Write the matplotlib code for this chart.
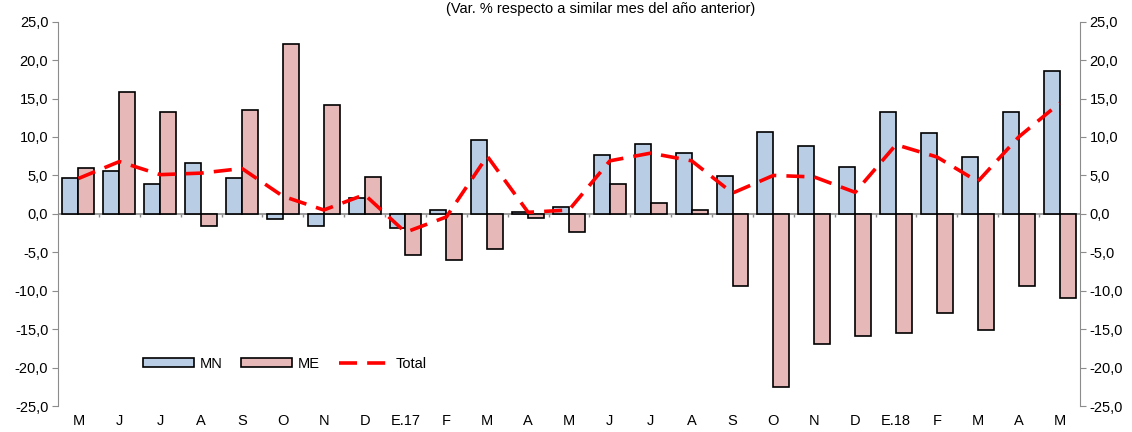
import matplotlib
matplotlib.use("Agg")
import matplotlib.pyplot as plt
import numpy as np
from matplotlib.ticker import FuncFormatter

plt.rcParams['font.family'] = ['Liberation Sans', 'DejaVu Sans']

months = ["M", "J", "J", "A", "S", "O", "N", "D", "E.17", "F", "M", "A", "M",
          "J", "J", "A", "S", "O", "N", "D", "E.18", "F", "M", "A", "M"]
mn = [4.6, 5.6, 3.85, 6.6, 4.7, -0.7, -1.6, 2.0, -1.9, 0.55, 9.65, 0.25, 0.95,
      7.6, 9.1, 7.95, 4.95, 10.7, 8.85, 6.05, 13.3, 10.5, 7.4, 13.3, 18.6]
me = [6.0, 15.8, 13.25, -1.55, 13.45, 22.15, 14.2, 4.75, -5.3, -6.0, -4.6, -0.6, -2.3,
      3.85, 1.4, 0.55, -9.35, -22.55, -16.95, -15.85, -15.5, -12.95, -15.05, -9.35, -10.9]
total = [4.6, 6.8, 5.1, 5.3, 5.9, 2.3, 0.5, 2.5, -2.4, -0.4, 7.5, 0.2, 0.5,
         6.9, 7.9, 6.9, 2.7, 5.0, 4.8, 2.8, 9.0, 7.4, 4.2, 10.0, 14.4]
title = "(Var. % respecto a similar mes del año anterior)"

fig = plt.figure(figsize=(11.32, 4.32), dpi=100)
ax = fig.add_axes([58/1132, 1-406/432, (1080-58)/1132, (406-21.7)/432])

x = np.arange(len(months))
w = 0.39
gray = "#8c8c8c"
b1 = ax.bar(x - w/2, mn, w, color="#B9CDE5", edgecolor="black", linewidth=1.2, label="MN", zorder=2)
b2 = ax.bar(x + w/2, me, w, color="#E6B9B8", edgecolor="black", linewidth=1.2, label="ME", zorder=2)
ln, = ax.plot(x, total, color="#FF0000", linewidth=2.6, label="Total", zorder=3)
ln.set_dashes([5, 2.8])

ax.axhline(0, color=gray, linewidth=1.2, zorder=1)
bounds = np.arange(len(months) + 1) - 0.5
ax.vlines(bounds[1:-1], -0.45, 0, color=gray, linewidth=1.0, zorder=1)

ax.set_xlim(-0.5, len(months) - 0.5)
ax.set_ylim(-25, 25)
ax.set_yticks(np.arange(-25, 26, 5))
fmt = FuncFormatter(lambda v, p: f"{v:.1f}".replace(".", ","))
ax.yaxis.set_major_formatter(fmt)
ax.set_xticks(x)
ax.set_xticklabels(months)
ax.tick_params(axis='x', length=0, pad=6, labelsize=10.5)
ax.tick_params(axis='y', direction='out', length=4, color=gray, labelsize=10.5, pad=3)
for s in ["top", "bottom", "right"]:
    ax.spines[s].set_visible(False)
ax.spines["left"].set_color(gray)

ax2 = ax.twinx()
ax2.set_ylim(-25, 25)
ax2.set_yticks(np.arange(-25, 26, 5))
ax2.yaxis.set_major_formatter(fmt)
ax2.tick_params(axis='y', direction='out', length=4, color=gray, labelsize=10.5, pad=3)
for s in ["top", "bottom", "left"]:
    ax2.spines[s].set_visible(False)
ax2.spines["right"].set_color(gray)

leg = ax.legend(handles=[b1, b2, ln], labels=["MN", "ME", "Total"],
                loc="center", bbox_to_anchor=(0.222, 0.11), ncol=3, frameon=False,
                fontsize=10.5, handlelength=3.5, handleheight=0.6, columnspacing=1.3,
                handletextpad=0.4)

fig.text(601/1132, 1-9/432, title, ha="center", va="center", fontsize=10.5)

fig.savefig("out.png", dpi=100)
